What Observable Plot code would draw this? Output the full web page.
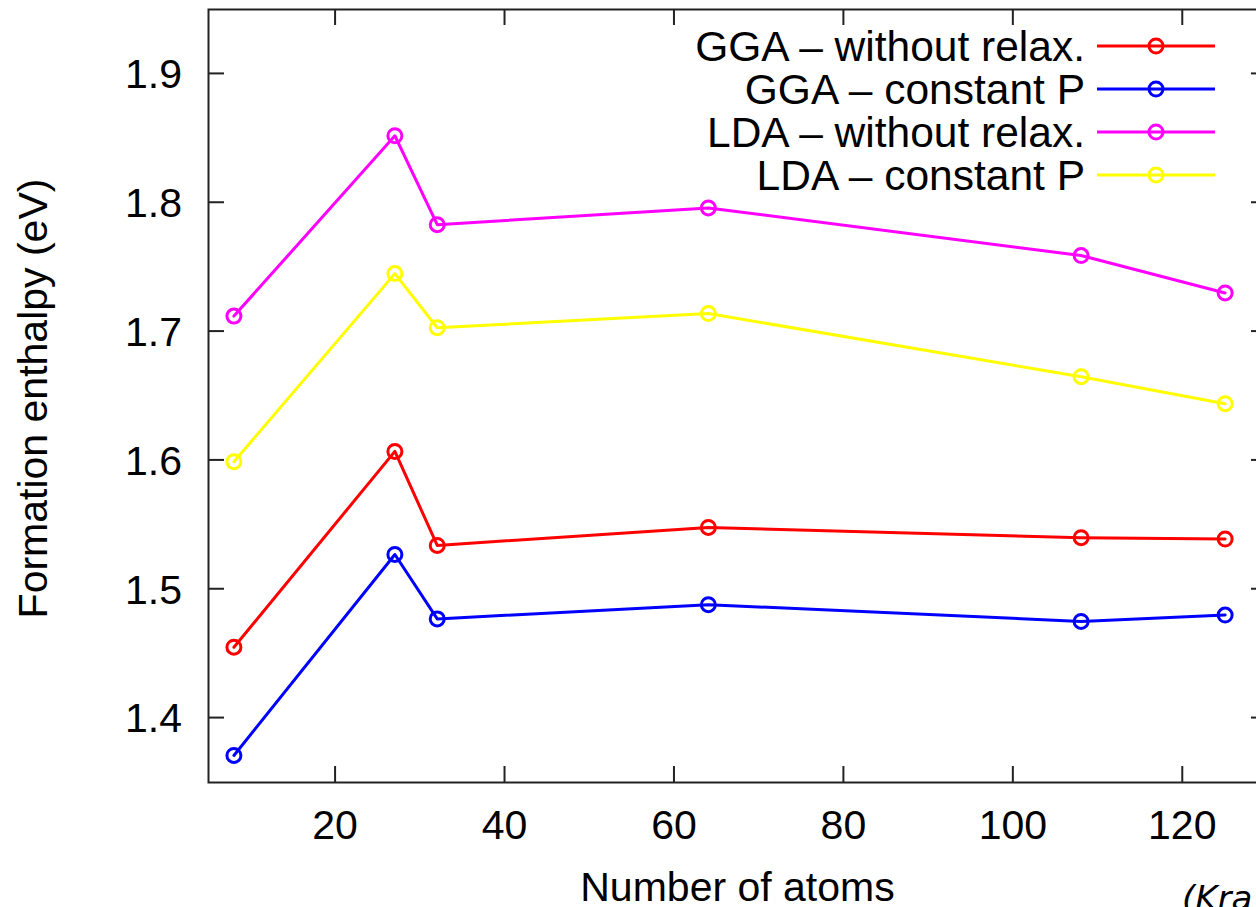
<!DOCTYPE html>
<html><head><meta charset="utf-8">
<script src="https://cdn.jsdelivr.net/npm/d3@7"></script>
<script src="https://cdn.jsdelivr.net/npm/@observablehq/plot@0.6"></script>
<style>html,body{margin:0;padding:0;background:#fff;overflow:hidden;} svg{max-width:none !important;}</style>
</head><body><div id="chart"></div>
<script>
const atoms = [8, 27, 32, 64, 108, 125];
const seriesNames = ["GGA – without relax.", "GGA – constant P", "LDA – without relax.", "LDA – constant P"];
const ggaWithout = [1.455, 1.607, 1.534, 1.548, 1.540, 1.539];
const ggaConstP  = [1.371, 1.527, 1.477, 1.488, 1.475, 1.480];
const ldaWithout = [1.712, 1.852, 1.783, 1.796, 1.759, 1.730];
const ldaConstP  = [1.599, 1.745, 1.703, 1.714, 1.665, 1.644];
const seriesColors = ["#ff0000", "#0000ff", "#ff00ff", "#ffff00"];
const xTicks = [20, 40, 60, 80, 100, 120];
const yTicks = [1.4, 1.5, 1.6, 1.7, 1.8, 1.9];
const xLabel = "Number of atoms";
const yLabel = "Formation enthalpy (eV)";
const caption = "(Kra";

const seriesValues = [ggaWithout, ggaConstP, ldaWithout, ldaConstP];
const data = seriesValues.flatMap((vals, s) => atoms.map((a, i) => ({series: seriesNames[s], atoms: a, h: vals[i]})));

const FS = 41;
const LEGEND_FS = 42.5;
const axisColor = "#222";
const TICK = 16;

function axesMark(index, scales, values, dims) {
  const g = d3.create("svg:g");
  const left = dims.marginLeft, right = dims.width - dims.marginRight;
  const top = dims.marginTop, bottom = dims.height - dims.marginBottom;
  const ticks = g.append("g").attr("stroke", axisColor).attr("stroke-width", 2);
  xTicks.forEach(v => {
    const X = scales.x(v);
    ticks.append("line").attr("x1", X).attr("x2", X).attr("y1", bottom).attr("y2", bottom - TICK);
    ticks.append("line").attr("x1", X).attr("x2", X).attr("y1", top).attr("y2", top + TICK);
    g.append("text").attr("x", X).attr("y", 839).attr("text-anchor", "middle")
      .attr("font-size", FS).attr("fill", "black").text(v);
  });
  yTicks.forEach(v => {
    const Y = scales.y(v);
    ticks.append("line").attr("x1", left).attr("x2", left + TICK).attr("y1", Y).attr("y2", Y);
    ticks.append("line").attr("x1", right).attr("x2", right - TICK).attr("y1", Y).attr("y2", Y);
    g.append("text").attr("x", left - 26).attr("y", Y).attr("dy", "0.36em").attr("text-anchor", "end")
      .attr("font-size", FS).attr("fill", "black").text(v.toFixed(1));
  });
  g.append("text").attr("x", (left + right) / 2).attr("y", 901).attr("text-anchor", "middle")
    .attr("font-size", FS).attr("fill", "black").text(xLabel);
  g.append("text").attr("transform", `translate(47,${(top + bottom) / 2 + 3}) rotate(-90)`)
    .attr("text-anchor", "middle").attr("font-size", FS).attr("fill", "black").text(yLabel);
  return g.node();
}

function legendMark(index, scales, values, dims) {
  const g = d3.create("svg:g");
  const right = dims.width - dims.marginRight;
  const top = dims.marginTop;
  seriesNames.forEach((name, i) => {
    const cy = top + 37 + 43 * i;
    g.append("text").attr("x", right - 182).attr("y", cy).attr("dy", "0.36em")
      .attr("text-anchor", "end").attr("font-size", LEGEND_FS).attr("fill", "black").text(name);
    g.append("line").attr("x1", right - 170).attr("x2", right - 52).attr("y1", cy).attr("y2", cy)
      .attr("stroke", seriesColors[i]).attr("stroke-width", 3);
    g.append("circle").attr("cx", right - 111).attr("cy", cy).attr("r", 7)
      .attr("fill", "none").attr("stroke", seriesColors[i]).attr("stroke-width", 3);
  });
  g.append("text").attr("x", 1182).attr("y", 910).attr("text-anchor", "start")
    .attr("font-family", "DejaVu Sans, sans-serif").attr("font-style", "italic")
    .attr("font-size", 34).attr("fill", "black").text(caption);
  return g.node();
}

const chart = Plot.plot({
  width: 1275,
  height: 907,
  marginLeft: 208,
  marginRight: 8,
  marginTop: 9,
  marginBottom: 125,
  style: {fontFamily: "'Liberation Sans', Arial, sans-serif", fontSize: FS + "px", color: "black", background: "white", maxWidth: "none"},
  x: {domain: [5, 130], axis: null},
  y: {domain: [1.35, 1.95], axis: null},
  color: {domain: seriesNames, range: seriesColors},
  marks: [
    Plot.line(data, {x: "atoms", y: "h", z: "series", stroke: "series", strokeWidth: 3}),
    Plot.dot(data, {x: "atoms", y: "h", stroke: "series", r: 7, strokeWidth: 3, fill: "none"}),
    Plot.frame({stroke: axisColor, strokeWidth: 2}),
    axesMark,
    legendMark
  ]
});
document.getElementById("chart").appendChild(chart);
</script>
</body></html>
